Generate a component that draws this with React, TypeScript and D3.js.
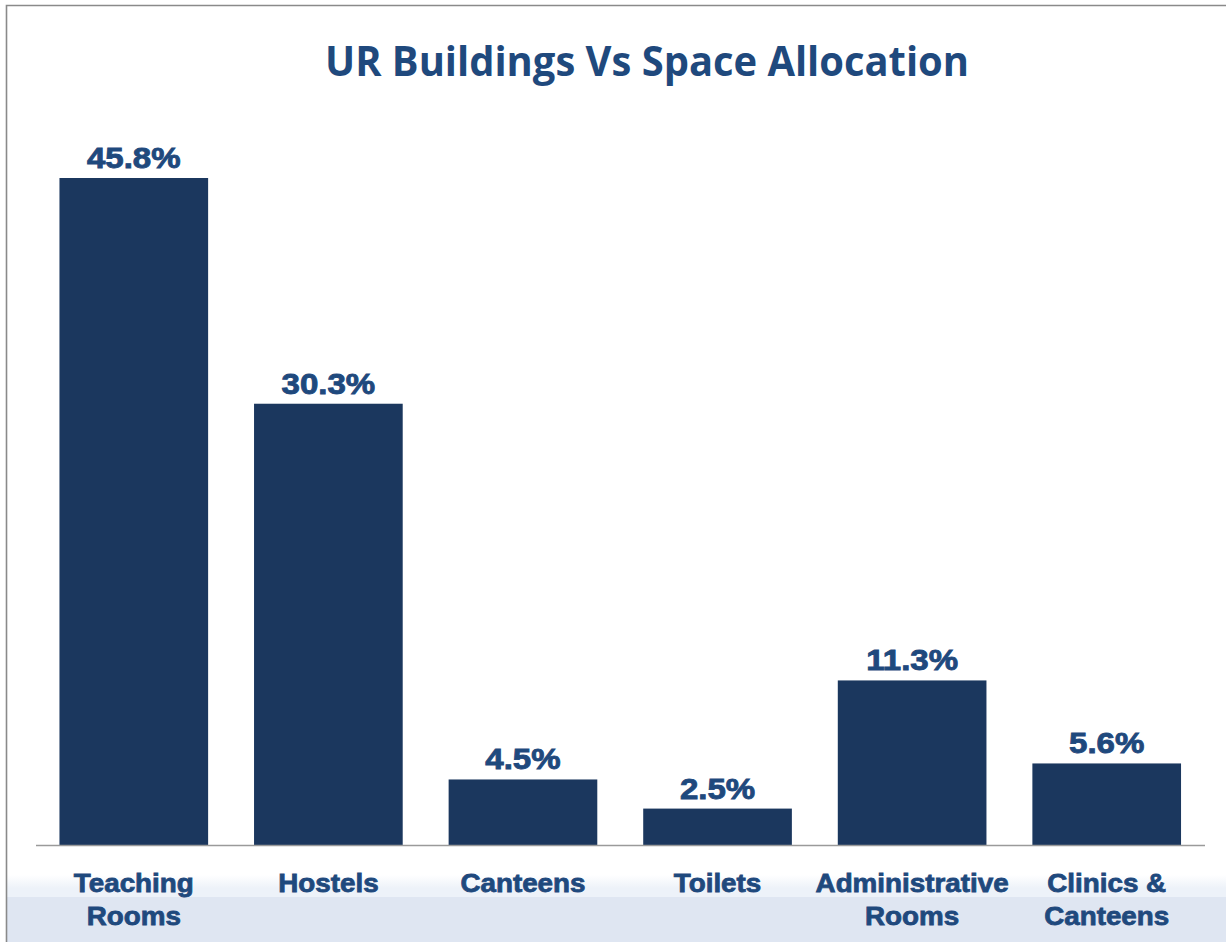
import React from "react";
import * as d3 from "d3";

const categories: string[][] = [
  ["Teaching", "Rooms"],
  ["Hostels"],
  ["Canteens"],
  ["Toilets"],
  ["Administrative", "Rooms"],
  ["Clinics &", "Canteens"],
];
const values: number[] = [45.8, 30.3, 4.5, 2.5, 11.3, 5.6];
const title = "UR Buildings Vs Space Allocation";

const W = 1226;
const H = 942;
const BAR = "#1b375e";
const TXT = "#1f497d";
const FONT = "'Liberation Sans', Arial, sans-serif";

export default function App() {
  const ids = categories.map((_, i) => String(i));
  const x = d3.scaleBand<string>().domain(ids).range([36.5, 1204]).paddingInner(0.236).paddingOuter(0.118);
  const y = d3.scaleLinear().domain([0, 45.8]).range([845, 178]);

  return (
    <svg width={W} height={H} style={{ position: "absolute", left: 0, top: 0 }} xmlns="http://www.w3.org/2000/svg">
      <defs>
        <linearGradient id="band" x1="0" y1="0" x2="0" y2="1">
          <stop offset="0" stopColor="#ffffff" />
          <stop offset="0.6" stopColor="#edf2f9" />
          <stop offset="1" stopColor="#edf2f9" />
        </linearGradient>
      </defs>
      <rect x={0} y={0} width={W} height={H} fill="#ffffff" />
      <rect x={7} y={875} width={W - 7} height={22} fill="url(#band)" />
      <rect x={7} y={897} width={W - 7} height={H - 897} fill="#dfe6f2" />
      <path d={`M6.5,${H} V5.5 H${W}`} fill="none" stroke="#8a8a8a" strokeWidth={1.6} />
      <text x={647} y={76} textAnchor="middle" fill={TXT} fontFamily="'Open Sans', Lato, sans-serif" fontWeight={700} fontSize={42} textLength={644} lengthAdjust="spacingAndGlyphs">
        {title}
      </text>
      {values.map((v, i) => (
        <rect key={"b" + i} x={x(String(i))} y={y(v)} width={x.bandwidth()} height={y(0) - y(v)} fill={BAR} />
      ))}
      <line x1={36} x2={1205} y1={845.5} y2={845.5} stroke="#9a9a9a" strokeWidth={1.5} />
      {values.map((v, i) => {
        const cx = (x(String(i)) as number) + x.bandwidth() / 2;
        return (
          <text key={"v" + i} transform={`translate(${cx},${y(v) - 10}) scale(1.1,1)`} textAnchor="middle" fill={TXT} stroke={TXT} strokeWidth={0.9} fontFamily={FONT} fontWeight={700} fontSize={30}>
            {v.toFixed(1) + "%"}
          </text>
        );
      })}
      {categories.map((lines, i) => {
        const cx = (x(String(i)) as number) + x.bandwidth() / 2;
        return lines.map((ln, j) => (
          <text key={"c" + i + "_" + j} transform={`translate(${cx},${892 + j * 33}) scale(1.07,1)`} textAnchor="middle" fill={TXT} stroke={TXT} strokeWidth={0.8} fontFamily={FONT} fontWeight={700} fontSize={26}>
            {ln}
          </text>
        ));
      })}
    </svg>
  );
}
